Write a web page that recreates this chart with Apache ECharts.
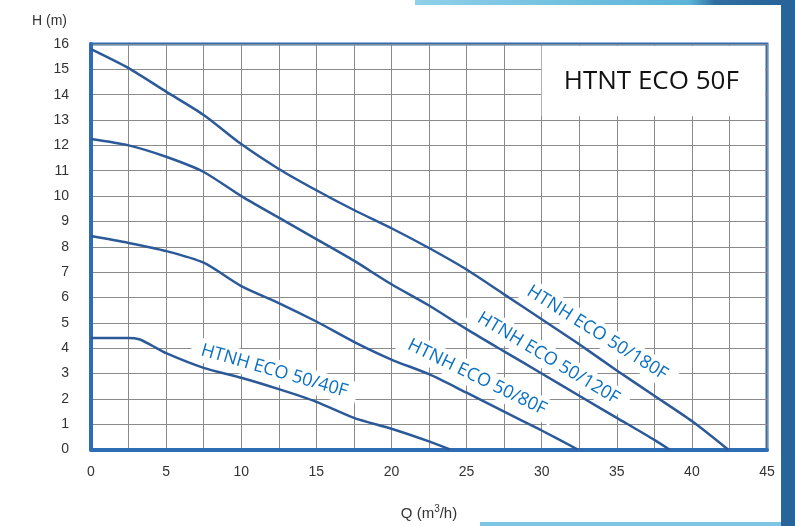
<!DOCTYPE html>
<html>
<head>
<meta charset="utf-8">
<script src="https://cdn.jsdelivr.net/npm/echarts@6/dist/echarts.min.js"></script>
<style>
html,body{margin:0;padding:0;background:#fff;}
#c{width:795px;height:526px;}
</style>
</head>
<body>
<div id="c"></div>
<script>
// ---- data ----
const q180 = [0, 2.5, 5, 7.5, 10, 12.5, 15, 17.5, 20, 22.5, 25, 27.5, 30, 32.5, 35, 37.5, 40, 42.4];
const h180 = [15.8, 15.05, 14.12, 13.2, 12.05, 11.07, 10.23, 9.45, 8.73, 7.95, 7.1, 6.12, 5.14, 4.15, 3.12, 2.12, 1.12, 0];

const q120 = [0, 2.5, 5, 7.5, 10, 12.5, 15, 17.5, 20, 22.5, 25, 27.5, 30, 32.5, 35, 37.5, 38.5];
const h120 = [12.25, 12.0, 11.55, 10.95, 10.0, 9.15, 8.3, 7.45, 6.52, 5.68, 4.75, 3.87, 3.0, 2.12, 1.25, 0.38, 0];

const q80 = [0, 2.5, 5, 7.5, 10, 12.5, 15, 17.5, 20, 22.5, 25, 27.5, 30, 32.4];
const h80 = [8.42, 8.15, 7.83, 7.37, 6.45, 5.78, 5.05, 4.25, 3.55, 2.97, 2.24, 1.49, 0.75, 0];

const q40 = [0, 2.5, 3.2, 4, 5, 7.5, 10, 12.5, 15, 17.5, 20, 22.5, 23.9];
const h40 = [4.4, 4.4, 4.35, 4.12, 3.8, 3.22, 2.83, 2.38, 1.88, 1.25, 0.82, 0.32, 0];

const seriesNames = ['HTNH ECO 50/180F', 'HTNH ECO 50/120F', 'HTNH ECO 50/80F', 'HTNH ECO 50/40F'];
const xTickLabels = [0, 5, 10, 15, 20, 25, 30, 35, 40, 45];
const chartTitle = 'HTNT ECO 50F';

// curve-label anchor points (data space) and angles
const labelQ = [33.7, 30.45, 25.7, 12.2];
const labelH = [4.6, 3.6, 2.85, 3.1];
const labelAngle = [32, 31, 26, 16];

// ---- chart ----
const chart = echarts.init(document.getElementById('c'));
const lineColor = '#2c5a99';
const borderBlue = '#2e6cb3';
const axisFont = 'Liberation Sans, Arial, sans-serif';

function pairs(q, h) { return q.map((v, i) => [v, h[i]]); }
const curves = [pairs(q180, h180), pairs(q120, h120), pairs(q80, h80), pairs(q40, h40)];

chart.setOption({
  animation: false,
  backgroundColor: '#ffffff',
  grid: { left: 91, top: 44, right: 28, bottom: 71, show: true, borderColor: borderBlue, borderWidth: 3, backgroundColor: 'transparent' },
  xAxis: {
    type: 'value', min: 0, max: 45, interval: 2.5,
    name: 'Q (m{sup|3}/h)', nameLocation: 'middle', nameGap: 55,
    nameTextStyle: { color: '#333', fontSize: 15, fontFamily: axisFont,
      rich: { sup: { fontSize: 10, verticalAlign: 'top', padding: [0, 0, 8, 0], color: '#333', fontFamily: axisFont } } },
    axisLine: { show: true, lineStyle: { color: borderBlue, width: 4 } },
    axisTick: { show: false },
    axisLabel: {
      margin: 16, color: '#333', fontSize: 14, fontFamily: axisFont,
      formatter: v => (xTickLabels.indexOf(v) >= 0 ? String(v) : '')
    },
    splitLine: { show: true, lineStyle: { color: '#8a8a8a', width: 1 } }
  },
  yAxis: {
    type: 'value', min: 0, max: 16, interval: 1,
    name: 'H (m)', nameLocation: 'end', nameGap: 16,
    nameTextStyle: { color: '#333', fontSize: 14, fontFamily: axisFont, align: 'right', padding: [0, 24, 0, 0] },
    axisLine: { show: true, lineStyle: { color: borderBlue, width: 4 } },
    axisTick: { show: false },
    axisLabel: { margin: 22, color: '#333', fontSize: 14, fontFamily: axisFont },
    splitLine: { show: true, lineStyle: { color: '#8a8a8a', width: 1 } }
  },
  series: curves.map((d, i) => ({
    name: seriesNames[i], type: 'line', data: d, showSymbol: false,
    smooth: 0.25,
    lineStyle: { color: lineColor, width: 2.5 }, z: 3
  }))
});

function px(q, h) { return chart.convertToPixel({ xAxisIndex: 0, yAxisIndex: 0 }, [q, h]); }

const g = [];
// slide decoration
g.push({ type: 'rect', shape: { x: 781, y: 0, width: 14, height: 526 }, style: { fill: '#27649a' }, z: 0 });
g.push({ type: 'rect', shape: { x: 415, y: 0, width: 366, height: 5 },
  style: { fill: new echarts.graphic.LinearGradient(0, 0, 1, 0, [{ offset: 0, color: '#8fd0ea' }, { offset: 0.75, color: '#5bb4d8' }, { offset: 0.82, color: '#2f6e9f' }, { offset: 1, color: '#27649a' }]) }, z: 0 });
g.push({ type: 'rect', shape: { x: 480, y: 522, width: 301, height: 4 }, style: { fill: '#7cc6e4' }, z: 0 });

// title box
const tl = px(30, 16), br = px(45, 13.15);
g.push({ type: 'rect', shape: { x: tl[0], y: tl[1] + 2, width: br[0] - tl[0] - 2, height: br[1] - tl[1] - 2 }, style: { fill: '#ffffff' }, z: 1 });
g.push({ type: 'text', x: (tl[0] + br[0]) / 2 - 3, y: (tl[1] + br[1]) / 2 + 1,
  style: { text: chartTitle, fill: '#111', font: '26px "Open Sans"', align: 'center', verticalAlign: 'middle' }, z: 4 });

// curve labels
seriesNames.forEach((name, i) => {
  const p = px(labelQ[i], labelH[i]);
  g.push({ type: 'text', x: p[0], y: p[1], rotation: -labelAngle[i] * Math.PI / 180,
    style: { text: name, fill: '#0a70c2', font: '18px "Open Sans"', align: 'center', verticalAlign: 'middle',
      backgroundColor: '#ffffff', padding: [3, 10] }, z: 1 });
});

chart.setOption({ graphic: g });
</script>
</body>
</html>
